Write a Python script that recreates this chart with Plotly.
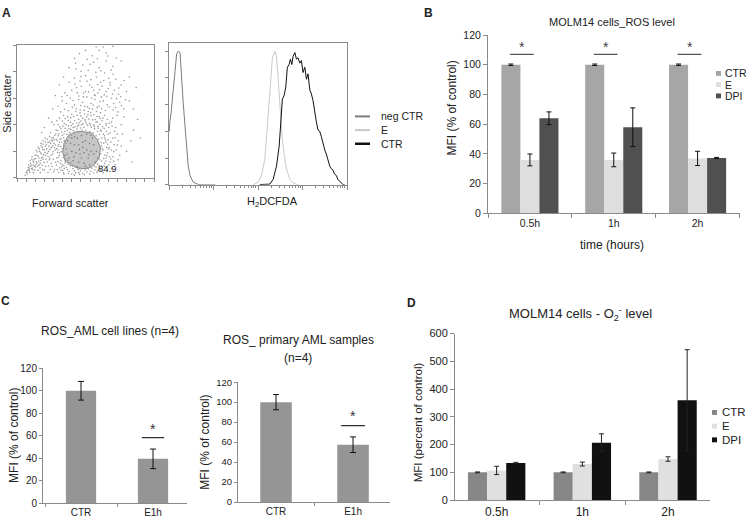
import math
import plotly.graph_objects as go

W, H = 750, 524
FONT = "Liberation Sans, Arial, sans-serif"

# ---------------- DATA ----------------
# Panel A (left): FSC / SSC dot plot, channel units 0-1000
scatter_events = [
    (75,30),(90,55),(82,80),(105,70),(118,95),(100,110),(130,60),(140,120),(125,140),(150,90),
    (160,150),(145,170),(170,110),(180,180),(165,200),(190,140),(200,210),(185,230),(210,170),(220,120),
    (215,250),(230,200),(240,150),(235,270),(250,230),(260,180),(255,300),(270,260),(280,210),(275,320),
    (290,150),(295,280),(300,240),(305,330),(310,190),(120,40),(95,130),(110,160),(140,210),(175,260),
    (205,300),(230,90),(250,110),(265,140),(200,60),(170,40),(155,230),(190,280),(60,20),(85,100),
    (285,360),(245,340),(112,75),(135,100),(158,125),(178,150),(196,175),(222,185),(242,215),(262,240),
    (320,60),(340,40),(360,80),(380,50),(400,30),(420,55),(450,40),(480,35),(510,45),(540,50),
    (570,60),(600,70),(620,90),(640,110),(650,150),(660,190),(655,230),(650,270),(640,300),(630,330),
    (610,360),(590,390),(560,400),(530,410),(500,420),(470,400),(440,390),(410,380),(380,370),(350,350),
    (330,320),(315,290),(305,250),(300,210),(310,170),(320,130),(330,100),(345,70),(680,120),(700,160),
    (690,210),(710,250),(700,300),(680,340),(670,380),(650,410),(620,430),(600,460),(570,440),(540,470),
    (510,460),(480,450),(450,440),(420,430),(390,420),(360,400),(335,390),(320,370),(300,400),(290,430),
    (310,450),(340,470),(370,460),(400,480),(430,500),(460,490),(490,510),(520,500),(550,520),(580,500),
    (610,490),(640,470),(660,440),(690,420),(720,380),(730,330),(740,280),(725,210),(750,170),(715,100),
    (690,70),(660,60),(630,40),(270,400),(255,420),(700,450),(730,470),(760,400),(770,330),(760,240),
    (625,385),(585,420),(455,415),(395,395),(345,410),(665,330),(685,270),(675,160),(345,280),(330,220),
    (300,540),(330,580),(360,560),(390,600),(420,550),(450,590),(480,570),(510,610),(540,560),(570,590),
    (600,540),(630,580),(660,550),(690,600),(720,530),(750,570),(780,520),(350,640),(400,660),(440,640),
    (470,690),(500,650),(530,700),(560,660),(590,640),(620,690),(650,650),(680,700),(710,660),(740,630),
    (380,720),(420,750),(460,730),(500,770),(540,740),(580,760),(610,720),(640,790),(670,750),(700,780),
    (760,700),(800,650),(820,580),(850,520),(430,820),(480,850),(520,810),(560,870),(600,830),(650,880),
    (700,840),(550,920),(600,960),(650,940),(500,960),(700,990),(760,880),(420,900),(380,830),(340,760),
    (310,700),(280,620),(260,520),(820,760),(870,680),(880,440),(850,360),(830,280),(800,200),(840,120),
    (900,300),(780,460),(200,380),(230,450),(180,340),(465,545),(515,535),(565,625),(615,610),(435,680),
    (485,610),(545,600),(605,575),(655,615),(705,560),
    (287,97),(312,76),(298,123),(333,57),(351,112),(367,64),(389,92),(407,71),(428,38),(446,63),
    (463,52),(497,61),(523,67),(548,74),(577,83),(603,94),(618,127),(633,146),(641,172),(628,208),
    (617,241),(633,262),(619,301),(602,327),(588,352),(566,371),(543,382),(517,393),(489,381),(463,376),
    (437,369),(412,357),(386,341),(364,328),(341,303),(327,271),(318,236),(324,198),(337,152),(353,127),
    (372,103),(394,118),(669,98),(684,143),(673,228),(664,287),(652,351),(636,372),(605,403),(577,421),
    (552,437),(525,443),(497,437),(467,428),(436,414),(408,407),(376,392),(352,373),(326,346),(301,318),
    (287,289),(281,248),(273,227),(263,198),(248,171),(236,137),(227,161),(212,143),(197,117),(183,96),
    (168,76),(153,57),(137,83),(121,118),(108,141),(97,88),(86,62),(72,47),(131,171),(147,196),
    (163,219),(176,242),(191,254),(207,272),(221,291),(238,312),(251,283),(266,302),(283,331),(297,357),
    (313,383),(331,428),(352,447),(373,432),(391,452),(414,463),(439,472),(466,467),(493,481),(517,478),
    (538,491),(561,476),(584,462),(607,447),(628,452),(651,396),(672,411),(694,389),(712,351),(717,303),
    (733,247),(707,198),(738,137),(706,127),(589,53),(561,37),(531,29),(492,24),(457,27),(418,21),
    (377,33),(343,28),(305,41),(274,63),(256,86),(243,64),(226,41),(208,88),(187,63),
    (318,497),(347,517),(376,506),(404,531),(433,521),(461,512),(494,539),(527,523),(556,549),(586,531),
    (617,522),(645,508),(673,534),(703,513),(736,497),(763,545),(791,589),(326,613),(367,621),(409,583),
    (451,617),(486,637),(523,648),(571,621),(602,663),(637,627),(667,673),(697,632),(727,597),(757,611),
    (423,707),(467,763),(511,727),(547,683),(589,703),(633,733),(678,718),(721,742),(743,677),(782,733),
    (613,806),(576,795),(533,855),(468,803),(427,863),(688,812),(725,903),(662,918),(587,897),(513,893),
    (455,937),(628,985),(578,986),
    (342,92),(356,143),(361,187),(347,238),(358,262),(379,307),(398,322),(421,338),(447,352),(474,361),
    (503,357),(531,349),(556,338),(578,318),(597,291),(614,266),(624,221),(611,182),(603,137),(588,104),
    (566,88),(539,83),(511,77),(484,73),(459,78),(433,86),(409,97),(387,113),(372,132),(369,176),
    (316,109),(327,84),(294,64),(268,47),(281,118),(302,156),(296,192),(289,221),(309,268),(322,297),
    (342,331),(367,357),(393,366),(423,384),(451,398),(481,407),(509,404),(537,398),(563,388),(593,375),
    (617,352),(638,318),(646,286),(662,254),(667,216),(657,167),(649,128),(636,89),(612,61),(584,41),
    (93,41),(116,62),(128,88),(146,111),(161,97),(173,131),(188,158),(203,192),(217,219),(233,238),
    (246,262),(259,279),(272,288),(226,267),(207,239),(189,214),(173,188),(154,163),(136,147),(118,127),
    (103,96),(89,74),(77,58),(66,39),
]
core_events = [
    (380,150),(400,200),(420,250),(440,300),(460,180),(480,230),(500,280),(520,150),(540,200),(560,250),
    (450,120),(490,110),(530,100),(410,130),(390,260),(430,190),(470,320),(510,330),(550,300),(580,200),
    (590,150),(570,120),(360,220),(370,280),(440,80),(500,90),(470,150),(510,210),(450,250),(420,310),
    (480,270),(530,260),(560,180),(400,300),(350,170),(540,320),(490,190),(455,215),(525,175),(415,160),
]
gate_fsc = [472,545,586,610,600,569,521,460,400,351,334,344,375,424,472]
gate_ssc = [350,338,289,228,154,105,74,69,93,130,191,265,319,346,350]
gate_label = "84.9"

# Panel A (right): H2DCFDA histograms; x channel 0-1000 (4 log decades), y % of max
neg_x = [2,4,11,19,24,34,43,52,62,71,80,90,99,108,118,136,164,192,260]
neg_y = [40,46,53,66,68,85,98,100,99,78,61,44,26,14,7,2,0.3,0,0]
e_x = [473,501,520,538,551,563,572,581,594,604,613,623,634,645,660,679,697,725]
e_y = [0,2,7,19,41,66,83,95,100,96,80,58,39,24,12,4,1.5,0]
ctr_x = [510,566,585,604,619,628,637,647,656,665,675,682,690,697,707,716,725,735,744,753,
         763,772,781,791,800,809,819,828,837,847,856,865,875,884,893,903,912,921,930,940,
         949,959,968,977,987]
ctr_y = [0.2,0.5,4,14,29,46,64,67,73,88,90,94,90,96,99,94,95,91,93,84,
         88,79,83,71,68,63,53,47,41,40,36,31,26,23,18,14,12,11,8,7,
         4,2.5,1,0.2,0]
hist_names = ["neg CTR", "E", "CTR"]

# Panel B: MOLM14 ROS level (% of control)
times = ["0.5h", "1h", "2h"]
b_ctr = [100, 100, 100]
b_ctr_err = [0.5, 0.5, 0.5]
b_e = [36, 36, 37]
b_e_err = [4, 4.6, 4.8]
b_dpi = [64, 58, 37.3]
b_dpi_err = [4.3, 13, 0.4]
b_names = ["CTR", "E", "DPI"]

# Panel C
c_cats = ["CTR", "E1h"]
c_lines = [100, 39.5]
c_lines_err = [8.3, 8.7]
c_primary = [100, 57.4]
c_primary_err = [7.6, 7.8]

# Panel D: O2- level (percent of control)
d_ctr = [100, 100, 100]
d_ctr_err = [1.5, 1.5, 1.5]
d_e = [107, 130, 148]
d_e_err = [15, 7, 8]
d_dpi = [134, 207, 360]
d_dpi_err = [2, 32, 182]
d_names = ["CTR", "E", "DPI"]

# ---------------- HELPERS ----------------
def dx(a, b):
    return [a / W, b / W]

def dy(top, bottom):
    return [1 - bottom / H, 1 - top / H]

def px(x):
    return x / W

def py(y):
    return 1 - y / H

annotations = []
shapes = []

def ann(text, x, y, size=11, xanchor="center", angle=0, bold=False, color="#222"):
    annotations.append(dict(
        text=f"<b>{text}</b>" if bold else text, x=px(x), y=py(y), xref="paper", yref="paper",
        xanchor=xanchor, yanchor="middle", showarrow=False, textangle=angle,
        font=dict(family=FONT, size=size, color=color)))

fig = go.Figure()

# ---------------- PANEL A ----------------
fig.add_trace(go.Scatter(x=[p[0] for p in scatter_events], y=[p[1] for p in scatter_events],
                         mode="markers", marker=dict(size=1.6, color="#9a9a9a"),
                         xaxis="x", yaxis="y", showlegend=False, hoverinfo="skip"))
fig.add_trace(go.Scatter(x=gate_fsc, y=gate_ssc, mode="lines", fill="toself",
                         fillcolor="rgba(160,160,160,0.6)", line=dict(color="#8a8a8a", width=1),
                         xaxis="x", yaxis="y", showlegend=False, hoverinfo="skip"))
fig.add_trace(go.Scatter(x=[p[0] for p in core_events], y=[p[1] for p in core_events],
                         mode="markers", marker=dict(size=1.6, color="#7a7a7a"),
                         xaxis="x", yaxis="y", showlegend=False, hoverinfo="skip"))

hist_colors = ["#7c7c7c", "#c9c9c9", "#111111"]
for hx, hy, col in zip([neg_x, e_x, ctr_x], [neg_y, e_y, ctr_y], hist_colors):
    fig.add_trace(go.Scatter(x=hx, y=hy, mode="lines", line=dict(color=col, width=1),
                             xaxis="x2", yaxis="y2", showlegend=False, hoverinfo="skip"))

log_minor = [250 * (d + math.log10(k)) for d in range(4) for k in range(2, 10)]

axis_common = dict(showgrid=False, zeroline=False, linecolor="#8a8a8a", linewidth=1,
                   tickcolor="#8a8a8a", ticks="outside", tickfont=dict(family=FONT, size=10, color="#333"))

layout_axes = dict(
    xaxis=dict(axis_common, domain=dx(17, 154), range=[0, 1000], anchor="y", mirror=True,
               showticklabels=False, tickvals=[i * 1000 / 15 for i in range(16)], ticklen=3),
    yaxis=dict(axis_common, domain=dy(40, 176), range=[0, 1000], anchor="x", mirror=True,
               showticklabels=False, tickvals=[0, 200, 400, 600, 800, 1000], ticklen=3),
    xaxis2=dict(axis_common, domain=dx(169, 347), range=[0, 1000], anchor="y2", mirror=True,
                showticklabels=False, tickvals=[0, 250, 500, 750, 1000], ticklen=4,
                minor=dict(tickvals=log_minor, ticklen=2, ticks="outside", tickcolor="#8a8a8a")),
    yaxis2=dict(axis_common, domain=dy(38, 183), range=[0, 106], anchor="x2", mirror=True,
                showticklabels=False, tickvals=[0, 20, 40, 60, 80, 100], ticklen=3),
)

ann(gate_label, 108, 166, size=9.5)
ann("Side scatter", 7, 100, size=11, angle=-90)
ann("Forward scatter", 70, 202, size=11)
ann("H<sub>2</sub>DCFDA", 272, 201, size=11)
ann("A", 6, 7, size=12, bold=True)

leg_y_A = [113, 127, 141]
leg_w_A = [2, 2, 2.5]
for name, col, yy, lw in zip(hist_names, hist_colors, leg_y_A, leg_w_A):
    shapes.append(dict(type="line", xref="paper", yref="paper", x0=px(355), x1=px(370),
                       y0=py(yy), y1=py(yy), line=dict(color=col, width=lw)))
    ann(name, 379, yy, size=10.5, xanchor="left")

# ---------------- PANEL B ----------------
b_colors = ["#a6a6a6", "#dedede", "#505050"]
wb = 0.227
for k, (vals, errs, name, col) in enumerate(zip([b_ctr, b_e, b_dpi], [b_ctr_err, b_e_err, b_dpi_err],
                                               b_names, b_colors)):
    fig.add_trace(go.Bar(x=times, y=vals, width=wb, offset=-1.5 * wb + k * wb, name=name,
                         marker=dict(color=col, line=dict(width=0)),
                         error_y=dict(type="data", array=errs, color="#111", thickness=1, width=2.5),
                         xaxis="x3", yaxis="y3", showlegend=False))

layout_axes["xaxis3"] = dict(axis_common, domain=dx(488, 739.5), range=[-0.5, 2.5], anchor="y3",
                             type="category", tickson="boundaries", ticklen=4,
                             tickfont=dict(family=FONT, size=10.5, color="#222"))
layout_axes["yaxis3"] = dict(axis_common, domain=dy(29.7, 212.3), range=[0, 120], anchor="x3",
                             tickvals=[0, 20, 40, 60, 80, 100, 120], ticklen=4,
                             tickfont=dict(family=FONT, size=10.5, color="#222"))

for i in range(len(times)):
    shapes.append(dict(type="line", xref="x3", yref="y3", x0=i - 1.05 * wb, x1=i + 0.2 * wb,
                       y0=107, y1=107, line=dict(color="#555", width=1.2)))
    annotations.append(dict(text="*", x=i - 0.42 * wb, y=112, xref="x3", yref="y3", showarrow=False,
                            font=dict(family=FONT, size=14, color="#444")))

ann("MOLM14 cells_ROS level", 612, 16, size=11)
ann("MFI (% of control)", 452, 105, size=12, angle=-90)
ann("time (hours)", 612, 245, size=12)
ann("B", 429, 7, size=12, bold=True)
for name, col, yy in zip(b_names, b_colors, [69, 80.5, 92]):
    shapes.append(dict(type="rect", xref="paper", yref="paper", x0=px(716), x1=px(721),
                       y0=py(yy + 2.5), y1=py(yy - 2.5), fillcolor=col, line=dict(width=0)))
    ann(name, 723, yy, size=10.5, xanchor="left")

# ---------------- PANEL C ----------------
c_color = "#959595"
fig.add_trace(go.Bar(x=c_cats, y=c_lines, width=0.42, marker=dict(color=c_color, line=dict(width=0)),
                     error_y=dict(type="data", array=c_lines_err, color="#111", thickness=1, width=3),
                     xaxis="x4", yaxis="y4", showlegend=False))
fig.add_trace(go.Bar(x=c_cats, y=c_primary, width=0.41, marker=dict(color=c_color, line=dict(width=0)),
                     error_y=dict(type="data", array=c_primary_err, color="#111", thickness=1, width=3),
                     xaxis="x5", yaxis="y5", showlegend=False))

layout_axes["xaxis4"] = dict(axis_common, domain=dx(43, 187), range=[-0.528, 1.472], anchor="y4",
                             type="category", tickson="boundaries", ticklen=3,
                             tickfont=dict(family=FONT, size=10, color="#222"))
layout_axes["yaxis4"] = dict(axis_common, domain=dy(370.7, 509), range=[0, 120], anchor="x4",
                             tickvals=[0, 20, 40, 60, 80, 100, 120], ticklen=3,
                             tickfont=dict(family=FONT, size=10, color="#222"))
layout_axes["xaxis5"] = dict(axis_common, domain=dx(238, 390), range=[-0.494, 1.48], anchor="y5",
                             type="category", tickson="boundaries", ticklen=3,
                             tickfont=dict(family=FONT, size=10, color="#222"))
layout_axes["yaxis5"] = dict(axis_common, domain=dy(385, 507.7), range=[0, 120], anchor="x5",
                             tickvals=[0, 20, 40, 60, 80, 100, 120], ticklen=3,
                             tickfont=dict(family=FONT, size=9.5, color="#222"))

for xr, yr, ly, sy in [("x4", "y4", 58.4, 66), ("x5", "y5", 76.6, 86)]:
    shapes.append(dict(type="line", xref=xr, yref=yr, x0=1 - 0.155, x1=1 + 0.155,
                       y0=ly, y1=ly, line=dict(color="#333", width=1.2)))
    annotations.append(dict(text="*", x=1, y=sy, xref=xr, yref=yr, showarrow=False,
                            font=dict(family=FONT, size=14, color="#333")))

ann("C", 5, 302, size=12, bold=True)
ann("ROS_AML cell lines (n=4)", 110, 333, size=12)
ann("ROS_ primary AML samples", 298, 342, size=12)
ann("(n=4)", 298, 360, size=12)
ann("MFI (% of control)", 14, 440, size=12, angle=-90)
ann("MFI (% of control)", 205, 447, size=12, angle=-90)

# ---------------- PANEL D ----------------
d_colors = ["#878787", "#e0e0e0", "#111111"]
wd = 0.2235
for k, (vals, errs, name, col) in enumerate(zip([d_ctr, d_e, d_dpi], [d_ctr_err, d_e_err, d_dpi_err],
                                               d_names, d_colors)):
    fig.add_trace(go.Bar(x=times, y=vals, width=wd, offset=-1.5 * wd + k * wd, name=name,
                         marker=dict(color=col, line=dict(width=0)),
                         error_y=dict(type="data", array=errs, color="#222", thickness=1, width=2.5),
                         xaxis="x6", yaxis="y6", showlegend=False))

layout_axes["xaxis6"] = dict(axis_common, domain=dx(455, 710), range=[-0.486, 2.49], anchor="y6",
                             type="category", tickson="boundaries", ticklen=4,
                             tickfont=dict(family=FONT, size=12, color="#222"))
layout_axes["yaxis6"] = dict(axis_common, domain=dy(335.3, 505.7), range=[0, 600], anchor="x6",
                             tickvals=[0, 100, 200, 300, 400, 500, 600], ticklen=4,
                             tickfont=dict(family=FONT, size=11, color="#222"))

ann("D", 411, 304, size=12, bold=True)
ann("MOLM14 cells - O<sub>2</sub><sup>-</sup> level", 580, 315, size=13)
ann("MFI (percent of control)", 418, 426, size=11.5, angle=-90)
for name, col, yy in zip(d_names, d_colors, [416, 430, 444]):
    shapes.append(dict(type="rect", xref="paper", yref="paper", x0=px(712), x1=px(717),
                       y0=py(yy + 2.5), y1=py(yy - 2.5), fillcolor=col, line=dict(width=0)))
    ann(name, 720, yy, size=11.5, xanchor="left")

fig.update_layout(
    width=W, height=H, margin=dict(l=0, r=0, t=0, b=0),
    paper_bgcolor="white", plot_bgcolor="rgba(0,0,0,0)",
    barmode="overlay", showlegend=False, hovermode=False,
    font=dict(family=FONT, size=11, color="#222"),
    annotations=annotations, shapes=shapes,
    **layout_axes,
)

fig.write_html("out.html", config={"displayModeBar": False},
               post_script="document.body.style.margin='0';document.body.style.overflow='hidden';")
